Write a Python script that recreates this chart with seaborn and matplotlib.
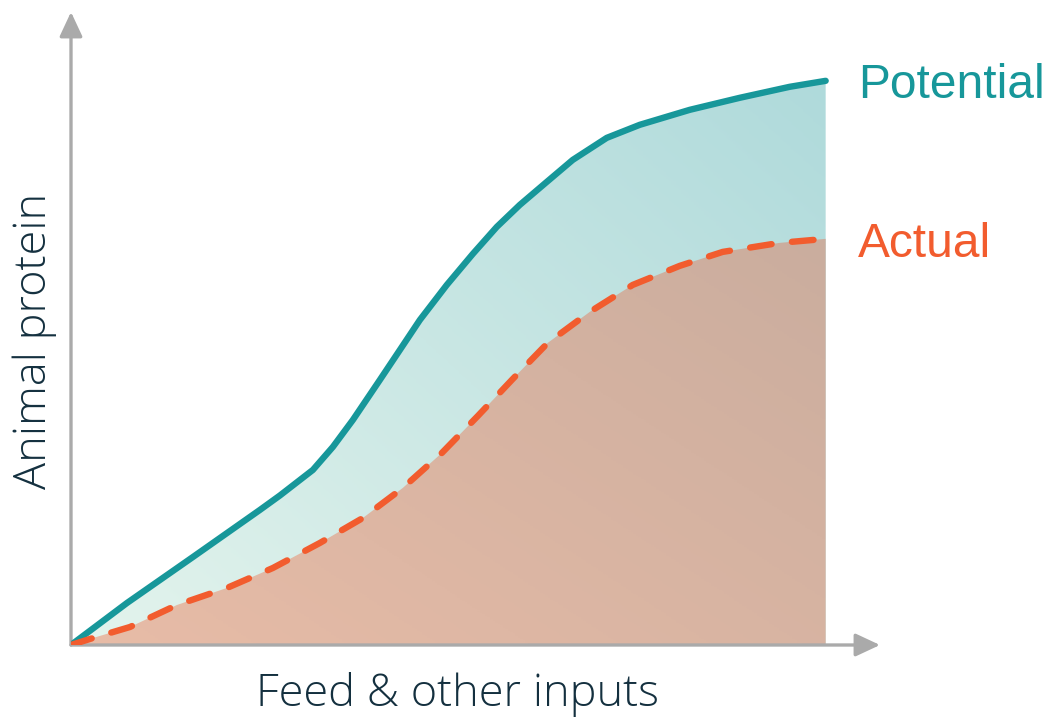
import numpy as np
import matplotlib
matplotlib.use("Agg")
import matplotlib.pyplot as plt
import seaborn as sns
from matplotlib.colors import LinearSegmentedColormap
from matplotlib.patches import Polygon

# Feed input (x) and animal-protein output (y), relative units
feed_potential = [0, 7.42, 16.16, 25.03, 27.68, 32.05, 34.70, 37.35, 40.93,
                  43.58, 46.23, 49.80, 53.25, 56.42, 59.47, 63.05, 66.49,
                  70.99, 75.36, 81.99, 88.61, 95.23, 100]
protein_potential = [0, 7.45, 15.60, 23.94, 26.50, 31.03, 35.11, 39.89, 46.99,
                     52.30, 57.62, 63.83, 69.33, 74.11, 78.01, 82.09, 85.99,
                     89.89, 92.20, 94.86, 96.99, 98.94, 100]

feed_actual = [0, 2.91, 7.81, 14.04, 20.66, 26.75, 32.98, 38.68, 43.97, 49.14,
               53.91, 58.54, 63.18, 68.74, 74.44, 80.66, 86.36, 93.91, 100]
protein_actual = [0, 1.24, 3.19, 7.09, 10.11, 13.65, 18.09, 22.52, 27.84,
                  34.04, 40.60, 47.16, 53.55, 59.04, 63.83, 67.20, 69.68,
                  71.28, 71.99]

series_labels = ["Potential", "Actual"]
x_label = "Feed & other inputs"
y_label = "Animal protein"

TEAL = "#17979a"
ORANGE = "#f25c2e"
AXIS_GREY = "#aaaaaa"
TEXT_DARK = "#14303f"

sns.set_theme(style="white")
plt.rcParams["font.family"] = ["Open Sans", "DejaVu Sans"]

W, H = 1053, 720
fig = plt.figure(figsize=(W / 100, H / 100), dpi=100)
ax = fig.add_axes([71 / W, 75 / H, 809 / W, 633 / H])
XMAX, YMAX = 107.2, 112.2


def gradient_area(ax, x, y, c0, c1, z):
    """Fill the area under (x, y) with a diagonal colour gradient."""
    verts = list(zip(x, y)) + [(x[-1], 0), (x[0], 0)]
    clip = Polygon(verts, closed=True, facecolor="none", edgecolor="none",
                   transform=ax.transData)
    ax.add_patch(clip)
    n = 300
    gx, gy = np.meshgrid(np.linspace(0, 1, n), np.linspace(0, 1, n))
    t = 0.55 * gx + 0.45 * gy
    cmap = LinearSegmentedColormap.from_list("grad", [c0, c1])
    im = ax.imshow(t, extent=(0, max(x), 0, max(y)), origin="lower",
                   cmap=cmap, vmin=0, vmax=1, aspect="auto", zorder=z,
                   interpolation="bilinear")
    im.set_clip_path(clip)


gradient_area(ax, feed_potential, protein_potential, "#e4f4ed", "#afdadb", 1)
gradient_area(ax, feed_actual, protein_actual, "#e8bca7", "#caad9e", 2)

sns.lineplot(x=feed_potential, y=protein_potential, ax=ax, color=TEAL,
             lw=4.6, solid_capstyle="round", solid_joinstyle="round",
             sort=False, zorder=4)
sns.lineplot(x=feed_actual, y=protein_actual, ax=ax, color=ORANGE,
             lw=4.6, linestyle=(0, (3.4, 3.2)), dash_capstyle="round",
             dash_joinstyle="round", sort=False, zorder=5)

ax.set_xlim(0, XMAX)
ax.set_ylim(0, YMAX)
ax.set_xticks([])
ax.set_yticks([])
for s in ax.spines.values():
    s.set_visible(False)
ax.set_facecolor("none")

# Axis arrows
arrow = dict(arrowstyle="-|>,head_length=0.75,head_width=0.35",
             color=AXIS_GREY, lw=2.4, mutation_scale=20, shrinkA=0, shrinkB=0)
ax.annotate("", xy=(1, 0), xytext=(0, 0), xycoords="axes fraction",
            arrowprops=arrow, annotation_clip=False, zorder=3)
ax.annotate("", xy=(0, 1), xytext=(0, 0), xycoords="axes fraction",
            arrowprops=arrow, annotation_clip=False, zorder=3)

# Series labels
label_font = ["Liberation Sans", "DejaVu Sans"]
fig.text(858 / W, 1 - 98 / H, series_labels[0], ha="left", va="baseline",
         fontsize=34.5, color=TEAL, family=label_font)
fig.text(858 / W, 1 - 257 / H, series_labels[1], ha="left", va="baseline",
         fontsize=34.5, color=ORANGE, family=label_font)

# Axis titles
fig.text(457 / W, 1 - 706 / H, x_label, ha="center", va="baseline",
         fontsize=32.5, color=TEXT_DARK, fontweight=300)
fig.text(35 / W, 1 - 341 / H, y_label, ha="center", va="center",
         rotation=90, fontsize=32.5, color=TEXT_DARK, fontweight=300)

fig.savefig("out.png", dpi=100)
